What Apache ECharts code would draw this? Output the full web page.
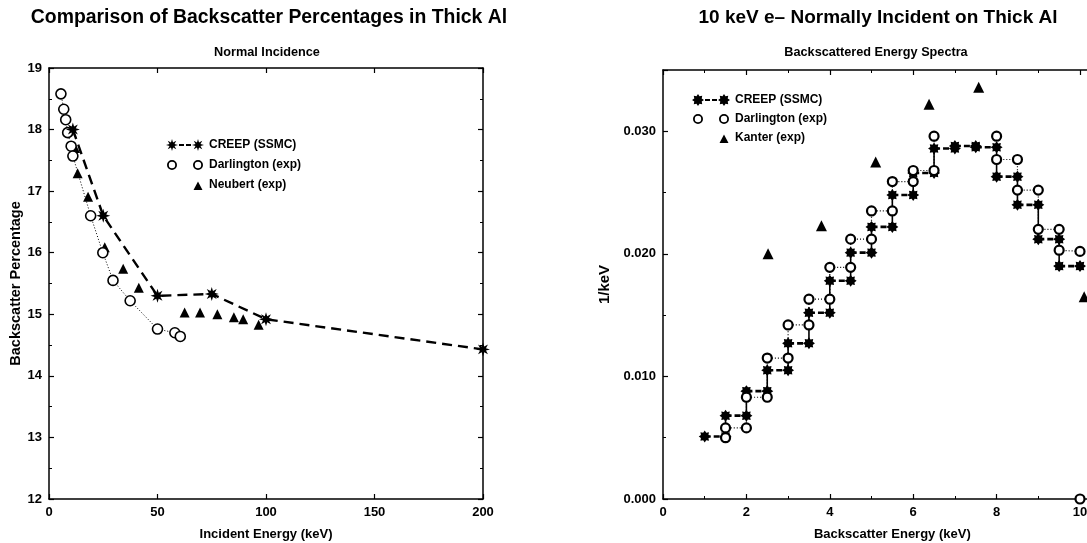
<!DOCTYPE html>
<html>
<head>
<meta charset="utf-8">
<title>Backscatter in Thick Al</title>
<script src="https://cdn.jsdelivr.net/npm/echarts@6/dist/echarts.min.js"></script>
<style>
html, body { margin: 0; padding: 0; background: #fff; }
#chart { width: 1087px; height: 543px; }
</style>
</head>
<body>
<div id="chart"></div>
<script>
// left panel: backscatter percentage vs incident energy (keV)
var creepE = [11, 25, 50, 75, 100, 200];
var creepPct = [18.0, 16.6, 15.3, 15.33, 14.92, 14.43];
var darlE = [5.5, 6.8, 7.7, 8.6, 10.2, 11.0, 19.2, 24.8, 29.5, 37.4, 50, 58, 60.5];
var darlPct = [18.58, 18.33, 18.16, 17.95, 17.73, 17.57, 16.6, 16.0, 15.55, 15.22, 14.76, 14.7, 14.64];
var neubE = [12, 13.2, 18, 25.7, 34.2, 41.4, 62.5, 69.6, 77.6, 85.2, 89.5, 96.6];
var neubPct = [17.7, 17.29, 16.91, 16.09, 15.74, 15.43, 15.03, 15.03, 15.0, 14.95, 14.92, 14.83];

// right panel: backscattered energy spectra, 0.5 keV bins
var binEdges = [1.0, 1.5, 2.0, 2.5, 3.0, 3.5, 4.0, 4.5, 5.0, 5.5, 6.0, 6.5, 7.0, 7.5, 8.0, 8.5, 9.0, 9.5, 10.0];
var creepSpec = [0.0051, 0.0068, 0.0088, 0.0105, 0.0127, 0.0152, 0.0178, 0.0201, 0.0222, 0.0248,
                 0.0266, 0.0286, 0.0288, 0.0287, 0.0263, 0.0240, 0.0212, 0.0190];
// Darlington points as plotted (null = gap)
var darlSpecE = [1.5, 1.5, 2.0, 2.0, 2.5, 2.5, 3.0, 3.0, 3.5, 3.5, 4.0, 4.0, 4.5, 4.5, 5.0, 5.0, 5.5, 5.5, 6.0, 6.0, 6.5, 6.5,
                 null, 8.0, 8.0, 8.5, 8.5, 9.0, 9.0, 9.5, 9.5, 10.0, null, 10.0];
var darlSpec = [0.0050, 0.0058, 0.0058, 0.0083, 0.0083, 0.0115, 0.0115, 0.0142, 0.0142, 0.0163, 0.0163, 0.0189,
                0.0189, 0.0212, 0.0212, 0.0235, 0.0235, 0.0259, 0.0259, 0.0268, 0.0268, 0.0296,
                null, 0.0296, 0.0277, 0.0277, 0.0252, 0.0252, 0.0220, 0.0220, 0.0203, 0.0202, null, 0.0];
var kanterE = [2.52, 3.8, 5.1, 6.38, 7.57, 10.1];
var kanterSpec = [0.0200, 0.0223, 0.0275, 0.0322, 0.0336, 0.0165];

var myChart = echarts.init(document.getElementById('chart'));
var FONT = 'Liberation Sans';

function starPath(cx, cy, R, r) {
    var s = '';
    for (var k = 0; k < 16; k++) {
        var a = k * Math.PI / 8, d = k % 2 ? r : R;
        s += (k ? 'L' : 'M') + (cx + d * Math.cos(a)).toFixed(2) + ' ' + (cy + d * Math.sin(a)).toFixed(2) + ' ';
    }
    return s + 'Z ';
}
function ringPath(cx, cy, R, r) {
    return 'M' + (cx - R) + ' ' + cy + ' A' + R + ' ' + R + ' 0 1 1 ' + (cx + R) + ' ' + cy +
        ' A' + R + ' ' + R + ' 0 1 1 ' + (cx - R) + ' ' + cy + ' Z ' +
        'M' + (cx - r) + ' ' + cy + ' A' + r + ' ' + r + ' 0 1 0 ' + (cx + r) + ' ' + cy +
        ' A' + r + ' ' + r + ' 0 1 0 ' + (cx - r) + ' ' + cy + ' Z ';
}
var corners = 'M0 0 L0.01 0 L0 0.01 Z M38 12 L37.99 12 L38 11.99 Z ';
var dashes = 'M13 5 L18 5 L18 7 L13 7 Z M20 5 L25 5 L25 7 L20 7 Z ';
var iconCreepL = 'path://' + starPath(6, 6, 6, 2.7) + dashes + starPath(32, 6, 6, 2.7);
var iconCreepR = 'path://' + starPath(6, 6, 6, 4) + dashes + starPath(32, 6, 6, 4);
var iconRings = 'path://' + ringPath(6, 6, 5, 3.2) + ringPath(32, 6, 5, 3.2) + corners;
var iconTri = 'path://' + corners + 'M27.5 11 L32 2.5 L36.5 11 Z';

function pairs(xs, ys) {
    return xs.map(function (x, i) { return x == null ? [NaN, NaN] : [x, ys[i]]; });
}
function stepTops(edges, vals) {
    var out = [];
    vals.forEach(function (v, i) {
        if (i > 0) out.push([NaN, NaN]);
        out.push([edges[i], v], [edges[i + 1], v]);
    });
    return out;
}
function stepRisers(edges, vals) {
    var out = [];
    for (var i = 1; i < vals.length; i++) {
        if (out.length) out.push([NaN, NaN]);
        out.push([edges[i], vals[i - 1]], [edges[i], vals[i]]);
    }
    return out;
}

var labelText = { color: '#000', fontFamily: FONT, fontWeight: 'bold', fontSize: 13 };
function frameAxis(extra, showLabel, nameSize) {
    return Object.assign({
        type: 'value',
        axisLine: { show: true, onZero: false, lineStyle: { color: '#000', width: 1.5 } },
        axisTick: { show: true, inside: true, length: 5, lineStyle: { color: '#000', width: 1.2 } },
        splitLine: { show: false },
        axisLabel: Object.assign({ show: showLabel, margin: 7, showMinLabel: true, showMaxLabel: true }, labelText),
        nameLocation: 'middle',
        nameTextStyle: Object.assign({}, labelText, { fontSize: nameSize || 13 })
    }, extra);
}
var minor = { show: true, splitNumber: 2, length: 3, lineStyle: { color: '#000', width: 1 } };

function titleText(text, x, y, size) {
    return {
        text: text, left: x, top: y, textAlign: 'center', padding: 0,
        textStyle: { fontFamily: FONT, fontWeight: 'bold', fontSize: size, color: '#000' }
    };
}

var option = {
    animation: false,
    backgroundColor: '#fff',
    title: [
        titleText('Comparison of Backscatter Percentages in Thick Al', 269, 8, 19.4),
        titleText('10 keV e\u2013 Normally Incident on Thick Al', 878, 8, 19),
        titleText('Normal Incidence', 267, 46, 12.7),
        titleText('Backscattered Energy Spectra', 876, 46, 12.7)
    ],
    grid: [
        { left: 49, top: 68, width: 434, height: 431, containLabel: false, outerBoundsMode: 'none' },
        { left: 663, top: 70, width: 458.7, height: 429, containLabel: false, outerBoundsMode: 'none' }
    ],
    legend: [
        {
            left: 166, top: 139, orient: 'vertical', padding: 0, itemWidth: 38, itemHeight: 12, itemGap: 8,
            selectedMode: false,
            textStyle: { color: '#000', fontFamily: FONT, fontWeight: 'bold', fontSize: 12 },
            data: [
                { name: 'CREEP (SSMC)', icon: iconCreepL, itemStyle: { color: '#000', borderWidth: 0 } },
                { name: 'Darlington (exp)', icon: iconRings, itemStyle: { color: '#000', borderWidth: 0 } },
                { name: 'Neubert (exp)', icon: iconTri, itemStyle: { color: '#000', borderWidth: 0 } }
            ]
        },
        {
            left: 692, top: 94, orient: 'vertical', padding: 0, itemWidth: 38, itemHeight: 12, itemGap: 7,
            selectedMode: false,
            textStyle: { color: '#000', fontFamily: FONT, fontWeight: 'bold', fontSize: 12 },
            data: [
                { name: 'CREEP (SSMC) ', icon: iconCreepR, itemStyle: { color: '#000', borderWidth: 0 } },
                { name: 'Darlington (exp) ', icon: iconRings, itemStyle: { color: '#000', borderWidth: 0 } },
                { name: 'Kanter (exp)', icon: iconTri, itemStyle: { color: '#000', borderWidth: 0 } }
            ]
        }
    ],
    xAxis: [
        frameAxis({ gridIndex: 0, position: 'bottom', min: 0, max: 200, interval: 50,
            name: 'Incident Energy (keV)', nameGap: 29 }, true),
        frameAxis({ gridIndex: 0, position: 'top', min: 0, max: 200, interval: 50 }, false),
        frameAxis({ gridIndex: 1, position: 'bottom', min: 0, max: 11, interval: 2, minorTick: minor,
            name: 'Backscatter Energy (keV)', nameGap: 29 }, true),
        frameAxis({ gridIndex: 1, position: 'top', min: 0, max: 11, interval: 2, minorTick: minor }, false)
    ],
    yAxis: [
        frameAxis({ gridIndex: 0, position: 'left', min: 12, max: 19, interval: 1, minorTick: minor,
            name: 'Backscatter Percentage', nameGap: 26 }, true, 14.5),
        frameAxis({ gridIndex: 0, position: 'right', min: 12, max: 19, interval: 1, minorTick: minor }, false),
        frameAxis({ gridIndex: 1, position: 'left', min: 0, max: 0.035, interval: 0.01, minorTick: minor,
            name: '1/keV', nameGap: 51 }, true, 15),
        frameAxis({ gridIndex: 1, position: 'right', min: 0, max: 0.035, interval: 0.01, minorTick: minor }, false)
    ],
    series: [
        {
            name: 'Darlington (exp)', type: 'line', xAxisIndex: 0, yAxisIndex: 0,
            data: pairs(darlE, darlPct),
            symbol: 'circle', symbolSize: 10,
            itemStyle: { color: '#fff', borderColor: '#000', borderWidth: 1.6 },
            lineStyle: { color: '#000', width: 1, type: [1, 2] }
        },
        {
            name: 'Neubert (exp)', type: 'scatter', xAxisIndex: 0, yAxisIndex: 0,
            data: pairs(neubE, neubPct),
            symbol: 'triangle', symbolSize: 10,
            itemStyle: { color: '#000', opacity: 1 }
        },
        {
            name: 'CREEP (SSMC)', type: 'line', xAxisIndex: 0, yAxisIndex: 0,
            data: pairs(creepE, creepPct),
            symbol: 'path://' + starPath(10, 10, 10, 4.6), symbolSize: 14,
            itemStyle: { color: '#000' },
            lineStyle: { color: '#000', width: 2.4, type: [10, 6] }
        },
        {
            name: 'creep risers', type: 'line', xAxisIndex: 2, yAxisIndex: 2,
            data: stepRisers(binEdges, creepSpec),
            symbol: 'none', connectNulls: false,
            lineStyle: { color: '#000', width: 1.6 }
        },
        {
            name: 'CREEP (SSMC) ', type: 'line', xAxisIndex: 2, yAxisIndex: 2,
            data: stepTops(binEdges, creepSpec),
            symbol: 'path://' + starPath(10, 10, 10, 6.8), symbolSize: 12, connectNulls: false,
            itemStyle: { color: '#000' },
            lineStyle: { color: '#000', width: 2.6, type: [6, 3] }
        },
        {
            name: 'Darlington (exp) ', type: 'line', xAxisIndex: 2, yAxisIndex: 2,
            data: pairs(darlSpecE, darlSpec),
            symbol: 'circle', symbolSize: 9, connectNulls: false,
            itemStyle: { color: '#fff', borderColor: '#000', borderWidth: 2.2 },
            lineStyle: { color: '#000', width: 1.2, type: [1, 2] }
        },
        {
            name: 'Kanter (exp)', type: 'scatter', xAxisIndex: 2, yAxisIndex: 2,
            data: pairs(kanterE, kanterSpec),
            symbol: 'triangle', symbolSize: 11,
            itemStyle: { color: '#000', opacity: 1 }
        }
    ]
};
option.yAxis[2].axisLabel.formatter = function (v) { return v.toFixed(3); };
option.yAxis[2].axisLabel.showMaxLabel = false;

myChart.setOption(option);
</script>
</body>
</html>
